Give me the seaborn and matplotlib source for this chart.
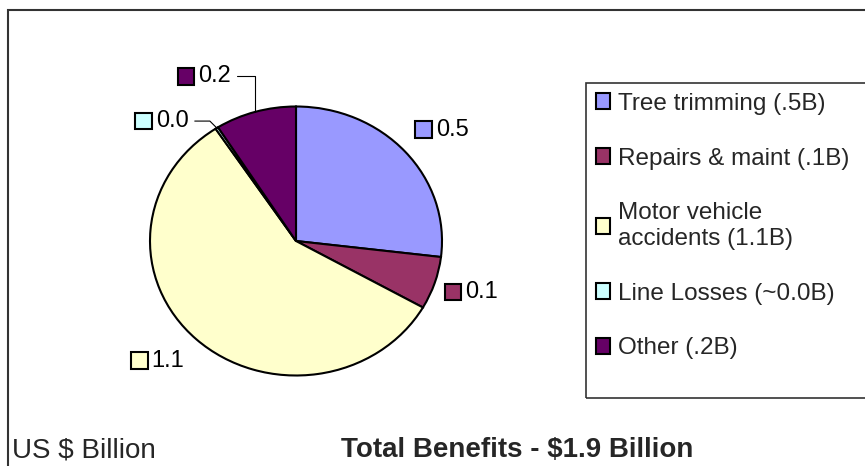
import numpy as np
import matplotlib
matplotlib.use("Agg")
import matplotlib.pyplot as plt
from matplotlib.patches import Rectangle
from matplotlib.offsetbox import AnnotationBbox, DrawingArea, TextArea, HPacker
import seaborn as sns

# data (US $ Billion)
categories = ["Tree trimming (.5B)", "Repairs & maint (.1B)",
              "Motor vehicle\naccidents (1.1B)", "Line Losses (~0.0B)", "Other (.2B)"]
values = [0.51, 0.12, 1.09, 0.006, 0.17]
value_labels = ["0.5", "0.1", "1.1", "0.0", "0.2"]
colors = ["#9999FF", "#993366", "#FFFFCC", "#CCFFFF", "#660066"]

sns.set_theme(style="white")
plt.rcParams["font.family"] = ["Liberation Sans", "DejaVu Sans"]

W, H = 865, 466
fig = plt.figure(figsize=(W / 100, H / 100), dpi=100)
fig.patch.set_facecolor("white")

# outer chart frame (runs off the right / bottom edge like the original)
fig.patches.append(Rectangle((8 / W, -0.1), 1.2, 1 - 10 / H + 0.1,
                             transform=fig.transFigure, fill=False,
                             edgecolor="#333333", linewidth=1.5))
# legend frame, also cut off on the right
fig.patches.append(Rectangle((586 / W, 1 - 398 / H), 1.0, (398 - 83) / H,
                             transform=fig.transFigure, fill=False,
                             edgecolor="#333333", linewidth=1.2, zorder=5))

# elliptical pie like the excel one
ax = fig.add_axes([150 / W, 90.5 / H, 292 / W, 269 / H])
wedges, _ = ax.pie(values, colors=colors, startangle=90, counterclock=False,
                   wedgeprops=dict(edgecolor="black", linewidth=1.5))
ax.set_aspect("auto")
ax.set_xlim(-1, 1)
ax.set_ylim(-1, 1)
ax.axis("off")

# data labels: radius and angle nudge per slice, plus leader lines for the small ones
label_r = [1.30, 1.26, 1.30, 1.28, 1.375]
label_nudge = [-2, 0.7, -3.7, 13, 11]
leaders = [None, None, None, "angle,angleA=0,angleB=135", "angle,angleA=0,angleB=90"]

for w, txt, col, r, dn, conn in zip(wedges, value_labels, colors, label_r, label_nudge, leaders):
    mid = np.deg2rad((w.theta1 + w.theta2) / 2)
    ang = mid + np.deg2rad(dn)
    sq = DrawingArea(12, 12, 0, 0)
    sq.add_artist(Rectangle((0, 0), 12, 12, facecolor=col, edgecolor="black", linewidth=1.5))
    ta = TextArea(txt, textprops=dict(fontsize=17, color="black"))
    box = HPacker(children=[sq, ta], align="center", pad=0, sep=3)
    arrow = None
    if conn is not None:
        arrow = dict(arrowstyle="-", color="black", linewidth=0.8,
                     connectionstyle=conn, shrinkA=4, shrinkB=0)
    ab = AnnotationBbox(box, (np.cos(mid), np.sin(mid)),
                        xybox=(r * np.cos(ang), r * np.sin(ang)),
                        xycoords="data", boxcoords="data", frameon=False,
                        box_alignment=(0.5, 0.5), arrowprops=arrow,
                        annotation_clip=False, pad=0)
    ax.add_artist(ab)

leg = fig.legend(wedges, categories, loc="upper left",
                 bbox_to_anchor=(586 / W, 1 - 83 / H), bbox_transform=fig.transFigure,
                 borderaxespad=0, fontsize=17.5, frameon=False,
                 handlelength=0.6, handleheight=0.6, handletextpad=0.3,
                 labelspacing=1.35, borderpad=0.4)
for h in leg.legend_handles:
    h.set_edgecolor("black")
    h.set_linewidth(1.5)

fig.text(12 / W, 1 - 451 / H, "US $ Billion", fontsize=20, va="center", ha="left")
fig.text(517 / W, 1 - 450 / H, "Total Benefits - $1.9 Billion", fontsize=20,
         fontweight="bold", va="center", ha="center")

fig.savefig("out.png", dpi=100, facecolor="white")
